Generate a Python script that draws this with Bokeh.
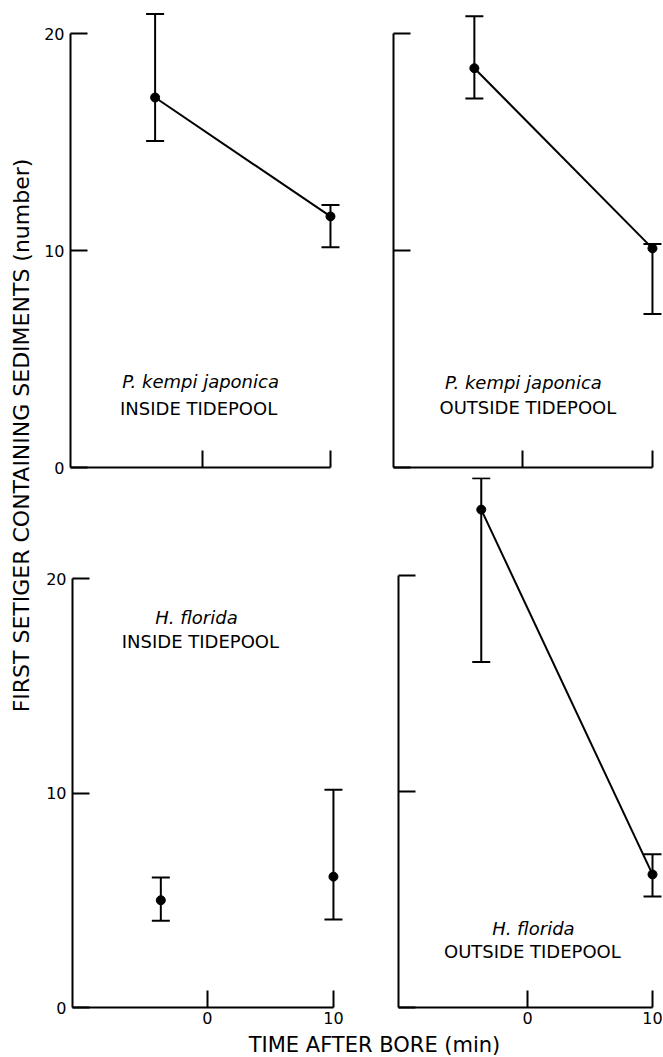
import math
from bokeh.plotting import figure
from bokeh.models import ColumnDataSource, Whisker, TeeHead, FixedTicker, Range1d
from bokeh.layouts import row, column
from bokeh.core.properties import value
from bokeh.embed import file_html
from bokeh.resources import INLINE

FONT = "DejaVu Sans"

# ---- data ----
times = [-3.7, 10.0]          # minutes after bore
y_ticks = [0, 10, 20]
x_ticks = [0, 10]

pk_in_mean = [17.05, 11.57]
pk_in_low = [15.05, 10.15]
pk_in_up = [20.9, 12.1]

pk_out_mean = [18.4, 10.1]
pk_out_low = [17.0, 7.07]
pk_out_up = [20.8, 10.3]

hf_in_mean = [5.0, 6.1]
hf_in_low = [4.04, 4.1]
hf_in_up = [6.06, 10.15]

hf_out_mean = [23.05, 6.16]
hf_out_low = [16.0, 5.14]
hf_out_up = [24.5, 7.1]

species = ["P. kempi japonica", "P. kempi japonica", "H. florida", "H. florida"]
places = ["INSIDE TIDEPOOL", "OUTSIDE TIDEPOOL", "INSIDE TIDEPOOL", "OUTSIDE TIDEPOOL"]
y_title = "FIRST SETIGER CONTAINING SEDIMENTS (number)"
x_title = "TIME AFTER BORE (min)"


def hide_labels(ax):
    ax.major_label_text_font_size = "1px"
    ax.major_label_text_color = None
    ax.major_label_standoff = 0
    ax.major_label_overrides = {t: "" for t in (x_ticks + y_ticks)}


def panel(mean, low, up, connect, xr, yr, w, h, bl, br, bt, bb,
          ylabels, xlabels, sp, pl, sp_xy, pl_xy):
    p = figure(width=w, height=h, x_range=Range1d(*xr), y_range=Range1d(*yr),
               toolbar_location=None, output_backend="svg", title=None,
               min_border_left=bl, min_border_right=br,
               min_border_top=bt, min_border_bottom=bb)
    p.outline_line_color = None
    p.xgrid.visible = False
    p.ygrid.visible = False
    p.background_fill_color = "white"

    for ax in (p.xaxis[0], p.yaxis[0]):
        ax.axis_line_width = 2
        ax.axis_line_color = "black"
        ax.major_tick_line_width = 2
        ax.major_tick_line_color = "black"
        ax.major_tick_in = 17
        ax.major_tick_out = 0
        ax.minor_tick_line_color = None
        ax.major_label_text_font = FONT
        ax.major_label_text_color = "black"

    xa = p.xaxis[0]
    xa.ticker = FixedTicker(ticks=x_ticks)
    xa.bounds = (xr[0], 10)
    if xlabels:
        xa.major_label_text_font_size = "16px"
        xa.major_label_standoff = 4
    else:
        hide_labels(xa)

    ya = p.yaxis[0]
    ya.ticker = FixedTicker(ticks=y_ticks)
    ya.bounds = (0, 20)
    if ylabels:
        ya.major_label_text_font_size = "16px"
        ya.major_label_standoff = 6
    else:
        hide_labels(ya)

    src = ColumnDataSource(dict(x=times, y=mean, lower=low, upper=up))
    if connect:
        p.line("x", "y", source=src, line_width=2, line_color="black")
    wh = Whisker(source=src, base="x", lower="lower", upper="upper",
                 dimension="height", line_width=2, line_color="black",
                 upper_head=TeeHead(size=18, line_width=2, line_color="black"),
                 lower_head=TeeHead(size=18, line_width=2, line_color="black"))
    p.add_layout(wh)
    p.scatter("x", "y", source=src, size=9, fill_color="black", line_color="black")

    p.text(x=[sp_xy[0]], y=[sp_xy[1]], text=[sp], text_font=value(FONT),
           text_font_style="italic", text_font_size="18px", text_align="center",
           text_baseline="middle", text_color="black")
    p.text(x=[pl_xy[0]], y=[pl_xy[1]], text=[pl], text_font=value(FONT),
           text_font_size="18px", text_align="center",
           text_baseline="middle", text_color="black")
    return p


# top row: 0..477 (frame 9..467), bottom row: 477..1031 (frame 477..1007)
tl = panel(pk_in_mean, pk_in_low, pk_in_up, True,
           (-10.31, -10.31 + 275 / 12.8), (0, 458 / 21.7),
           321, 477, 36, 10, 9, 10, True, False,
           species[0], places[0], (-0.15, 3.96), (-0.3, 2.72))
tr = panel(pk_out_mean, pk_out_low, pk_out_up, True,
           (-9.92, -9.92 + 270 / 13.0), (0, 458 / 21.7),
           308, 477, 38, 0, 9, 10, False, False,
           species[1], places[1], (0.08, 3.92), (0.42, 2.76))
bl = panel(hf_in_mean, hf_in_low, hf_in_up, False,
           (-10.71, -10.71 + 273 / 12.6), (0, 530 / 21.45),
           321, 554, 38, 10, 0, 24, True, True,
           species[2], places[2], (-0.87, 18.2), (-0.56, 17.06))
br = panel(hf_out_mean, hf_out_low, hf_out_up, True,
           (-10.32, -10.32 + 265 / 12.5), (0, 530 / 21.6),
           308, 554, 43, 0, 0, 24, False, True,
           species[3], places[3], (0.47, 3.66), (0.39, 2.6))


def blank(w, h):
    f = figure(width=w, height=h, x_range=Range1d(0, w), y_range=Range1d(0, h),
               toolbar_location=None, output_backend="svg", title=None,
               x_axis_location=None, y_axis_location=None,
               min_border_left=0, min_border_right=0,
               min_border_top=0, min_border_bottom=0)
    f.outline_line_color = None
    f.grid.visible = False
    return f


ylab = blank(34, 1031)
ylab.text(x=[21], y=[596], text=[y_title], angle=math.pi / 2,
          text_font=value(FONT), text_font_size="22px", text_align="center",
          text_baseline="middle", text_color="black")

xlab = blank(663, 26)
xlab.text(x=[374], y=[13], text=[x_title], text_font=value(FONT),
          text_font_size="21px", text_align="center",
          text_baseline="middle", text_color="black")

layout = column(row(ylab, column(row(tl, tr), row(bl, br))), xlab)

open("out.html", "w").write(file_html(layout, INLINE))
